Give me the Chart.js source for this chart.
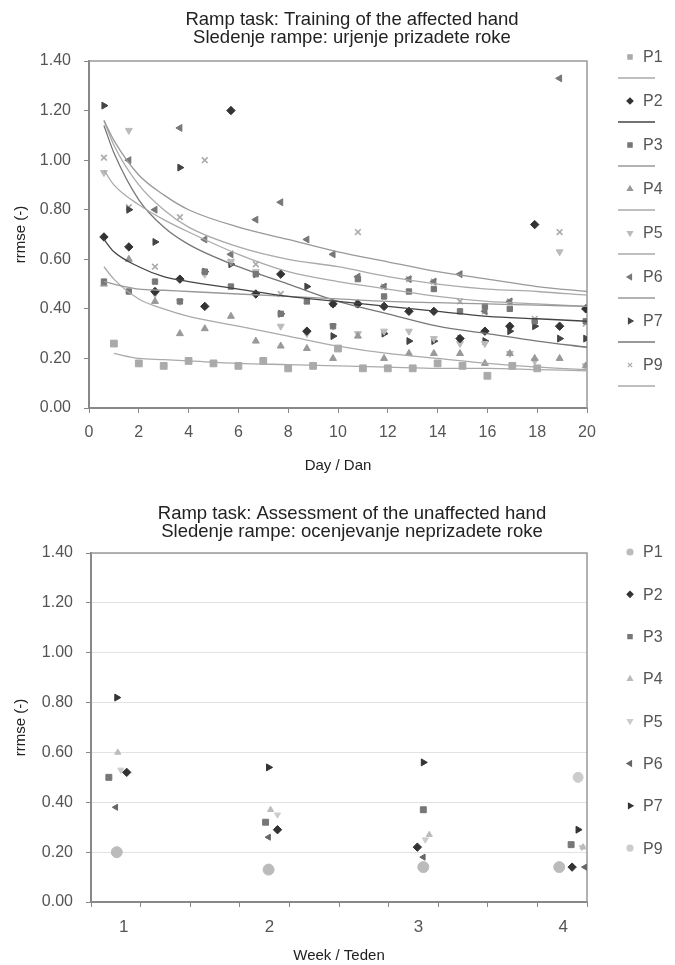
<!DOCTYPE html>
<html lang="sl">
<head>
<meta charset="UTF-8">
<title>Ramp task</title>
<script src="https://cdn.jsdelivr.net/npm/chart.js"></script>
<style>
  html, body { margin: 0; padding: 0; background: #fff; }
  canvas { display: block; }
</style>
</head>
<body>
<canvas id="train" width="675" height="485"></canvas>
<canvas id="assess" width="675" height="480"></canvas>
<script>
// participants
const names = ['P1', 'P2', 'P3', 'P4', 'P5', 'P6', 'P7', 'P9'];

// --- training (top chart) ---
const daysP1 = [1, 2, 3, 4, 5, 6, 7, 8, 9, 10, 11, 12, 13, 14, 15, 16, 17, 18];
const days = [0.6, 1.6, 2.65, 3.65, 4.65, 5.7, 6.7, 7.7, 8.75, 9.8, 10.8, 11.85, 12.85, 13.85, 14.9, 15.9, 16.9, 17.9, 18.9, 19.95];

const trainP1 = [0.26, 0.18, 0.17, 0.19, 0.18, 0.17, 0.19, 0.16, 0.17, 0.24, 0.16, 0.16, 0.16, 0.18, 0.17, 0.13, 0.17, 0.16];
const trainP2 = [0.69, 0.65, 0.47, 0.52, 0.41, 1.20, 0.46, 0.54, 0.31, 0.42, 0.42, 0.41, 0.39, 0.39, 0.28, 0.31, 0.33, 0.74, 0.33, 0.40];
const trainP3 = [0.51, 0.47, 0.51, 0.43, 0.55, 0.49, 0.54, 0.38, 0.43, 0.33, 0.52, 0.45, 0.47, 0.48, 0.39, 0.41, 0.40, 0.35, null, 0.35];
const trainP4 = [0.50, 0.60, 0.43, 0.30, 0.32, 0.37, 0.27, 0.25, 0.24, 0.20, 0.29, 0.20, 0.22, 0.22, 0.22, 0.18, 0.22, 0.20, 0.20, 0.17];
const trainP5 = [0.95, 1.12, 0.46, 0.43, 0.54, 0.59, 0.55, 0.33, 0.30, 0.33, 0.30, 0.31, 0.31, 0.28, 0.26, 0.26, 0.22, 0.19, 0.63, 0.17];
const trainP6 = [null, 1.00, 0.80, 1.13, 0.68, 0.62, 0.76, 0.83, 0.68, 0.62, 0.53, 0.49, 0.52, 0.51, 0.54, 0.39, 0.43, null, 1.33, null];
const trainP7 = [1.22, 0.80, 0.67, 0.97, 0.55, 0.58, 0.54, 0.38, 0.49, 0.29, 0.42, 0.30, 0.27, 0.27, 0.28, 0.27, 0.31, 0.33, 0.28, 0.28];
const trainP9 = [1.01, 0.81, 0.57, 0.77, 1.00, 0.59, 0.58, 0.46, 0.43, 0.42, 0.71, 0.49, 0.52, 0.51, 0.43, 0.39, 0.43, 0.36, 0.71, 0.34];

// trend lines
const trendDays = [0.6, 1, 2, 3, 4, 6, 8, 10, 12, 14, 16, 18, 20];
const trendP1 = [null, 0.22, 0.20, 0.195, 0.19, 0.18, 0.175, 0.17, 0.165, 0.16, 0.16, 0.155, 0.15];
const trendP2 = [0.68, 0.63, 0.57, 0.53, 0.51, 0.48, 0.45, 0.43, 0.41, 0.39, 0.37, 0.36, 0.35];
const trendP3 = [0.51, 0.50, 0.48, 0.475, 0.47, 0.46, 0.45, 0.44, 0.43, 0.425, 0.42, 0.415, 0.41];
const trendP4 = [0.57, 0.52, 0.44, 0.40, 0.37, 0.33, 0.29, 0.25, 0.22, 0.20, 0.18, 0.165, 0.155];
const trendP5 = [0.96, 0.90, 0.82, 0.76, 0.71, 0.62, 0.55, 0.51, 0.48, 0.45, 0.43, 0.42, 0.41];
const trendP6 = [1.16, 1.08, 0.94, 0.86, 0.80, 0.73, 0.68, 0.63, 0.59, 0.55, 0.52, 0.49, 0.47];
const trendP7 = [1.14, 1.03, 0.84, 0.73, 0.66, 0.57, 0.50, 0.43, 0.38, 0.33, 0.30, 0.27, 0.245];
const trendP9 = [1.16, 1.06, 0.90, 0.80, 0.73, 0.65, 0.60, 0.57, 0.53, 0.50, 0.48, 0.47, 0.455];

// --- assessment (bottom chart) ---
const weekTicks = [0.66, 3.6, 6.6, 9.52];
const weekLabels = ['1', '2', '3', '4'];
const assessXP1 = [0.52, 3.58, 6.70, 9.44];  const assessP1 = [0.20, 0.13, 0.14, 0.14];
const assessXP2 = [0.72, 3.76, 6.58, 9.70];  const assessP2 = [0.52, 0.29, 0.22, 0.14];
const assessXP3 = [0.36, 3.52, 6.70, 9.68];  const assessP3 = [0.50, 0.32, 0.37, 0.23];
const assessXP4 = [0.54, 3.62, 6.82, 9.92];  const assessP4 = [0.60, 0.37, 0.27, 0.22];
const assessXP5 = [0.60, 3.76, 6.74, 9.90];  const assessP5 = [0.53, 0.35, 0.25, 0.22];
const assessXP6 = [0.50, 3.58, 6.70, 9.96];  const assessP6 = [0.38, 0.26, 0.18, 0.14];
const assessXP7 = [0.52, 3.58, 6.70, 9.82];  const assessP7 = [0.82, 0.54, 0.56, 0.29];
const assessXP9 = [9.82];                     const assessP9 = [0.50];

const yTicks = { min: 0, max: 1.4, step: 0.2 };

// marker looks per participant
const looksTop = [
  { style: 'rect', rot: 0, r: 4.8, color: '#aaa', line: '#aaa' },
  { style: 'rectRot', rot: 0, r: 4.2, color: '#333', line: '#444' },
  { style: 'rect', rot: 0, r: 3.8, color: '#777', line: '#999' },
  { style: 'triangle', rot: 0, r: 4, color: '#999', line: '#aaa' },
  { style: 'triangle', rot: 180, r: 4, color: '#bbb', line: '#aaa' },
  { style: 'triangle', rot: -90, r: 4, color: '#777', line: '#999' },
  { style: 'triangle', rot: 90, r: 4, color: '#444', line: '#777' },
  { style: 'crossRot', rot: 0, r: 4, color: '#aaa', line: '#aaa' }
];
const looksBottom = [
  { style: 'circle', rot: 0, r: 5.5, color: '#bbb' },
  { style: 'rectRot', rot: 0, r: 4.2, color: '#333' },
  { style: 'rect', rot: 0, r: 4.2, color: '#777' },
  { style: 'triangle', rot: 0, r: 3.5, color: '#bbb' },
  { style: 'triangle', rot: 180, r: 3.5, color: '#ccc' },
  { style: 'triangle', rot: -90, r: 3.5, color: '#666' },
  { style: 'triangle', rot: 90, r: 4, color: '#333' },
  { style: 'circle', rot: 0, r: 5, color: '#ccc' }
];

const FONT = '"Liberation Sans", Arial, Helvetica, sans-serif';
Chart.defaults.font.family = FONT;

function pts(xs, ys) {
  return xs.map((x, i) => ({ x: x, y: ys[i] })).filter(p => p.y !== null);
}

// top and right frame lines
const framePlugin = {
  id: 'frame',
  beforeDatasetsDraw(chart) {
    const { ctx, chartArea: a } = chart;
    ctx.save();
    ctx.strokeStyle = '#999';
    ctx.lineWidth = 1.5;
    ctx.beginPath();
    ctx.moveTo(a.left, a.top);
    ctx.lineTo(a.right, a.top);
    ctx.lineTo(a.right, a.bottom);
    ctx.stroke();
    ctx.restore();
  }
};

// two-line title centred over the plot
const headingPlugin = {
  id: 'heading',
  afterDraw(chart, args, opts) {
    const ctx = chart.ctx;
    ctx.save();
    ctx.fillStyle = '#222';
    ctx.font = '18.5px ' + FONT;
    ctx.textAlign = 'center';
    ctx.textBaseline = 'alphabetic';
    opts.lines.forEach((t, i) => ctx.fillText(t, opts.x, opts.y + i * 18));
    ctx.restore();
  }
};

// legend on the right, with trendline samples in the top chart
const sideLegend = {
  id: 'sideLegend',
  afterDraw(chart, args, opts) {
    const ctx = chart.ctx;
    const looks = opts.top ? looksTop : looksBottom;
    ctx.save();
    names.forEach((n, i) => {
      const y = opts.y0 + i * opts.step;
      const lk = looks[i];
      ctx.fillStyle = lk.color;
      ctx.strokeStyle = lk.color;
      ctx.lineWidth = 1.2;
      Chart.helpers.drawPoint(ctx, { pointStyle: lk.style, rotation: lk.rot, radius: 3, borderWidth: 1 }, 630, y);
      ctx.fillStyle = '#555';
      ctx.font = '16px ' + FONT;
      ctx.textAlign = 'left';
      ctx.textBaseline = 'middle';
      ctx.fillText(n, 643, y + 1);
      if (opts.top) {
        ctx.strokeStyle = lk.line;
        ctx.lineWidth = 1.3;
        ctx.beginPath();
        ctx.moveTo(618, y + 21);
        ctx.lineTo(655, y + 21);
        ctx.stroke();
      }
    });
    ctx.restore();
  }
};

function yAxis(width, gridColor) {
  return {
    type: 'linear', min: yTicks.min, max: yTicks.max,
    afterFit(s) { s.width = width; },
    ticks: { stepSize: yTicks.step, padding: 13, color: '#555', font: { size: 16 }, callback: v => v.toFixed(2) },
    grid: { drawOnChartArea: !!gridColor, color: gridColor || '#000', tickLength: 5, tickColor: '#888' },
    border: { color: '#888', width: 2 },
    title: { display: true, text: 'rrmse (-)', color: '#222', font: { size: 15 }, padding: 12 }
  };
}

// ---------- top chart ----------
const trainSets = [trainP1, trainP2, trainP3, trainP4, trainP5, trainP6, trainP7, trainP9];
const trendSets = [trendP1, trendP2, trendP3, trendP4, trendP5, trendP6, trendP7, trendP9];

const topData = [];
trendSets.forEach((t, i) => topData.push({
  label: names[i] + ' trend',
  data: pts(trendDays, t),
  showLine: true,
  borderColor: looksTop[i].line,
  borderWidth: 1.3,
  pointRadius: 0,
  cubicInterpolationMode: 'monotone'
}));
trainSets.forEach((s, i) => topData.push({
  label: names[i],
  data: pts(i === 0 ? daysP1 : days, s),
  pointStyle: looksTop[i].style,
  pointRotation: looksTop[i].rot,
  pointRadius: looksTop[i].r,
  backgroundColor: looksTop[i].color,
  borderColor: looksTop[i].color,
  borderWidth: looksTop[i].style === 'crossRot' ? 1.6 : 1
}));

new Chart(document.getElementById('train'), {
  type: 'scatter',
  data: { datasets: topData },
  options: {
    responsive: false,
    animation: false,
    layout: { padding: { top: 61, right: 88, left: 0, bottom: 0 } },
    plugins: {
      legend: { display: false },
      tooltip: { enabled: false },
      heading: { lines: ['Ramp task: Training of the affected hand', 'Sledenje rampe: urjenje prizadete roke'], x: 352, y: 25 },
      sideLegend: { top: true, y0: 57, step: 44 }
    },
    scales: {
      x: {
        type: 'linear', min: 0, max: 20,
        afterFit(s) { s.height = 77; },
        ticks: { stepSize: 2, padding: 10, color: '#555', font: { size: 16 }, maxRotation: 0 },
        grid: { drawOnChartArea: false, tickLength: 5, tickColor: '#888' },
        border: { color: '#888', width: 2 },
        title: { display: true, text: 'Day / Dan', color: '#222', font: { size: 15 }, padding: 10 }
      },
      y: yAxis(89)
    }
  },
  plugins: [framePlugin, headingPlugin, sideLegend]
});

// ---------- bottom chart ----------
const assessXs = [assessXP1, assessXP2, assessXP3, assessXP4, assessXP5, assessXP6, assessXP7, assessXP9];
const assessYs = [assessP1, assessP2, assessP3, assessP4, assessP5, assessP6, assessP7, assessP9];

new Chart(document.getElementById('assess'), {
  type: 'scatter',
  data: {
    datasets: assessYs.map((ys, i) => ({
      label: names[i],
      data: pts(assessXs[i], ys),
      pointStyle: looksBottom[i].style,
      pointRotation: looksBottom[i].rot,
      pointRadius: looksBottom[i].r,
      backgroundColor: looksBottom[i].color,
      borderColor: looksBottom[i].color,
      borderWidth: 1
    }))
  },
  options: {
    responsive: false,
    animation: false,
    layout: { padding: { top: 68, right: 88, left: 0, bottom: 0 } },
    plugins: {
      legend: { display: false },
      tooltip: { enabled: false },
      heading: { lines: ['Ramp task: Assessment of the unaffected hand', 'Sledenje rampe: ocenjevanje neprizadete roke'], x: 352, y: 34 },
      sideLegend: { top: false, y0: 67, step: 42.3 }
    },
    scales: {
      x: {
        type: 'linear', min: 0, max: 10,
        afterFit(s) { s.height = 63; },
        afterBuildTicks(axis) {
          axis.ticks = axis.ticks.concat(weekTicks.map(v => ({ value: v }))).sort((a, b) => a.value - b.value);
        },
        ticks: {
          stepSize: 1, autoSkip: false, maxRotation: 0, padding: 10, color: '#555', font: { size: 17 },
          callback: v => { const k = weekTicks.indexOf(v); return k < 0 ? '' : weekLabels[k]; }
        },
        grid: {
          drawOnChartArea: false, tickLength: 5,
          tickColor: c => (c.tick && weekTicks.includes(c.tick.value)) ? 'rgba(0,0,0,0)' : '#888'
        },
        border: { color: '#888', width: 2 },
        title: { display: true, text: 'Week / Teden', color: '#222', font: { size: 15 }, padding: 0 }
      },
      y: yAxis(91, '#e2e2e2')
    }
  },
  plugins: [framePlugin, headingPlugin, sideLegend]
});
</script>
</body>
</html>
